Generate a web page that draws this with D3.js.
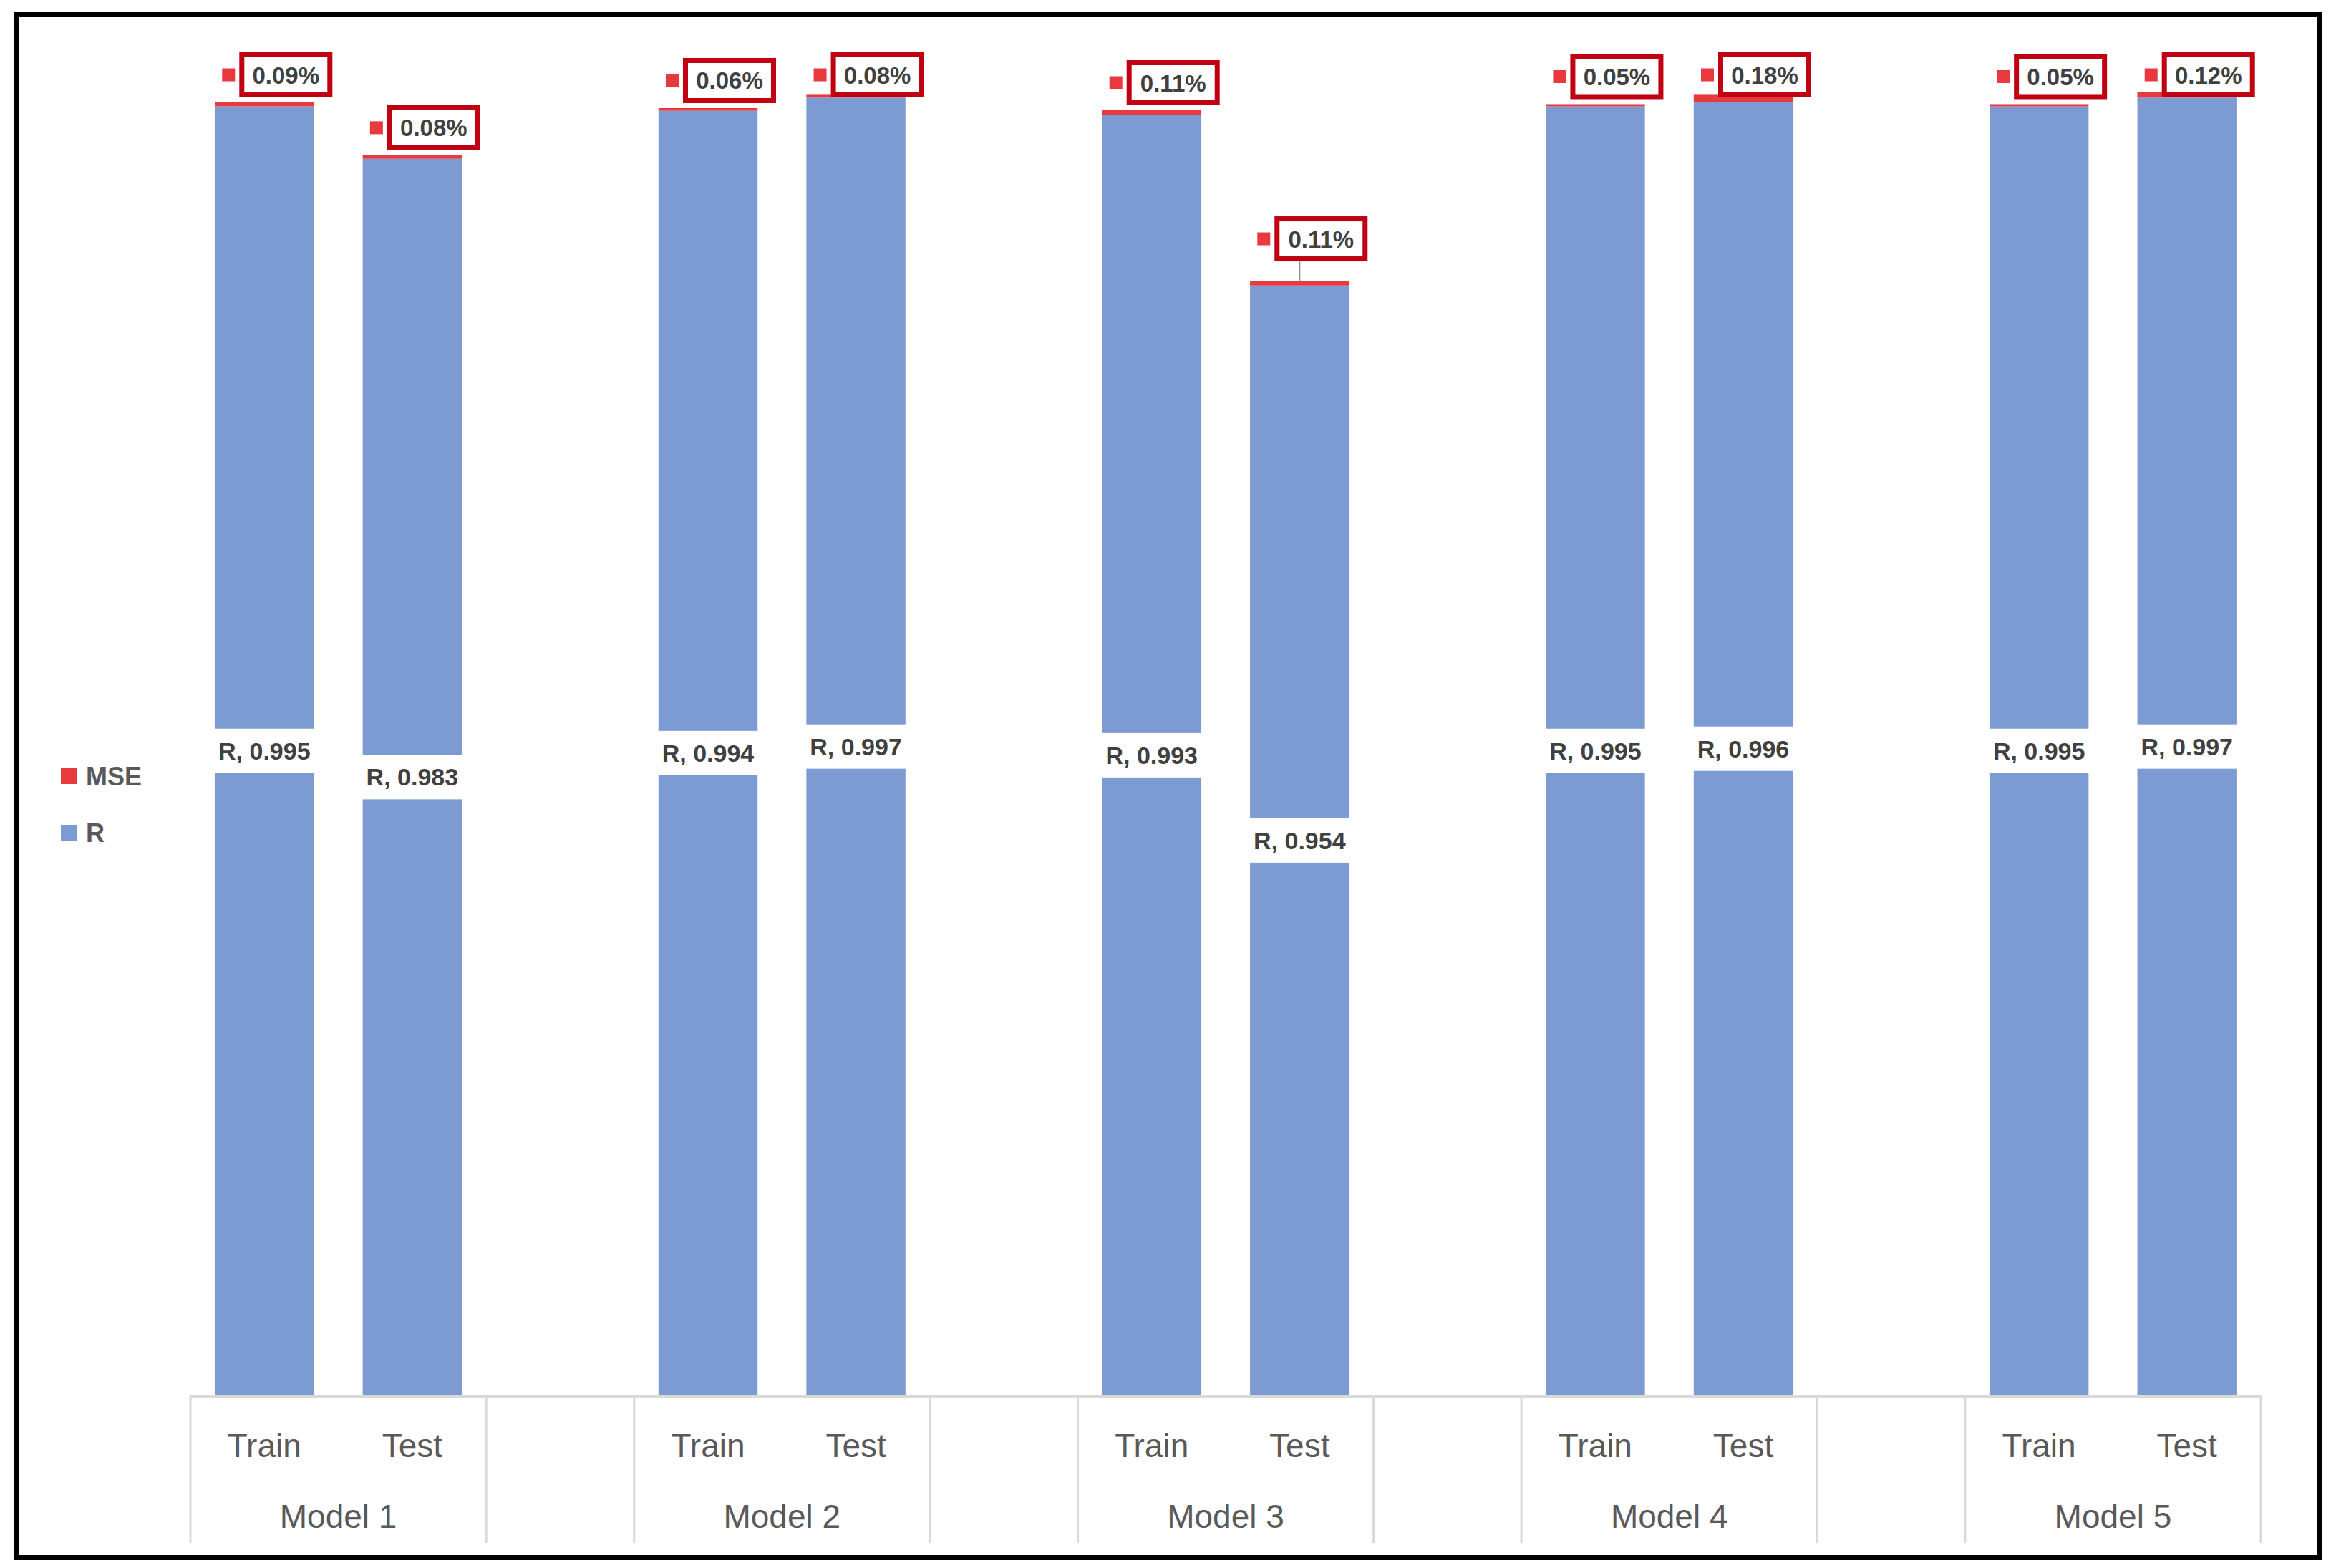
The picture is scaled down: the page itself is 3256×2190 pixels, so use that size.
<!DOCTYPE html>
<html>
<head>
    <style>
        body {
            margin: 0;
            background: #fff;
        }
        text {
            font-family: "Liberation Sans", Arial, sans-serif;
        }
        .rlabel {
            font-size: 34px;
            font-weight: bold;
            fill: #404040;
            text-anchor: middle;
        }
        .mselabel {
            font-size: 33px;
            font-weight: bold;
            fill: #404040;
            text-anchor: middle;
        }
        .cat {
            font-size: 46px;
            fill: #595959;
            text-anchor: middle;
        }
        .legend text {
            font-size: 36px;
            font-weight: bold;
            fill: #595959;
        }
    </style>
    <script src="https://d3js.org/d3.v7.min.js"></script>
</head>
<body>
    <svg width="3256" height="2190"></svg>

    <script>
        // data
        var models = ["Model 1", "Model 2", "Model 3", "Model 4", "Model 5"];
        var phases = ["Train", "Test"];
        var rTrain = [0.995, 0.994, 0.993, 0.995, 0.995];
        var rTest = [0.983, 0.997, 0.954, 0.996, 0.997];
        var mseTrain = [0.09, 0.06, 0.11, 0.05, 0.05];   // percent
        var mseTest = [0.08, 0.08, 0.11, 0.18, 0.12];    // percent

        var blue = "#7b9bd2",
            red = "#e8393f",
            boxRed = "#c00012";

        var svg = d3.select("svg");

        // outer frame
        svg.append("rect")
           .attr("x", 22.5).attr("y", 20.5)
           .attr("width", 3218).attr("height", 2155)
           .attr("fill", "none")
           .attr("stroke", "#000")
           .attr("stroke-width", 7);

        // rows, one per bar, plus an empty slot between models
        var rows = [];
        var slots = [];
        models.forEach(function(m, i) {
            phases.forEach(function(p, j) {
                var key = m + "|" + p;
                slots.push(key);
                rows.push({
                    key: key, model: m, phase: p,
                    R: j == 0 ? rTrain[i] : rTest[i],
                    MSE: (j == 0 ? mseTrain[i] : mseTest[i]) / 100,
                    msePct: j == 0 ? mseTrain[i] : mseTest[i]
                });
            });
            if (i < models.length - 1) slots.push("gap" + i);
        });

        var x = d3.scaleBand()
                  .domain(slots)
                  .range([266, 3158])
                  .paddingInner(0.33)
                  .paddingOuter(0.165);

        var y = d3.scaleLinear()
                  .domain([0.7, 1.0])
                  .range([1949, 118])
                  .clamp(true);

        var stack = d3.stack().keys(["R", "MSE"]);
        var series = stack(rows);

        var g = svg.append("g");

        g.selectAll(".series")
         .data(series)
         .enter().append("g")
         .attr("class", "series")
         .attr("fill", function(d) { return d.key == "R" ? blue : red; })
         .selectAll("rect")
         .data(function(d) { return d; })
         .enter().append("rect")
         .attr("x", function(d) { return x(d.data.key); })
         .attr("width", x.bandwidth())
         .attr("y", function(d) { return y(d[1]); })
         .attr("height", function(d) { return y(d[0]) - y(d[1]); });

        // category axis: base line and group separators
        var step = x.step();
        var axis = svg.append("g").attr("class", "axis");
        axis.append("line")
            .attr("x1", x.range()[0]).attr("x2", x.range()[1])
            .attr("y1", 1951).attr("y2", 1951)
            .attr("stroke", "#d9d9d9").attr("stroke-width", 4);

        models.forEach(function(m) {
            var left = x(m + "|Train") - x.bandwidth() * 0.33 / 0.67 / 2;
            var right = left + 2 * step;
            [left, right].forEach(function(xx) {
                axis.append("line")
                    .attr("x1", xx).attr("x2", xx)
                    .attr("y1", 1949).attr("y2", 2155)
                    .attr("stroke", "#d9d9d9").attr("stroke-width", 3);
            });
            axis.append("text")
                .attr("class", "cat")
                .attr("x", (left + right) / 2)
                .attr("y", 2134)
                .text(m);
        });

        axis.selectAll(".phase")
            .data(rows)
            .enter().append("text")
            .attr("class", "cat")
            .attr("x", function(d) { return x(d.key) + x.bandwidth() / 2; })
            .attr("y", 2035)
            .text(function(d) { return d.phase; });

        // R labels, middle of the blue part, on a white patch
        var rLab = g.selectAll(".rlab")
                    .data(series[0])
                    .enter().append("g")
                    .attr("transform", function(d) {
                        var cx = x(d.data.key) + x.bandwidth() / 2;
                        var cy = (y(d[0]) + y(d[1])) / 2;
                        return "translate(" + cx + "," + cy + ")";
                    });
        rLab.append("rect")
            .attr("x", -76).attr("y", -31)
            .attr("width", 152).attr("height", 62)
            .attr("fill", "#fff");
        rLab.append("text")
            .attr("class", "rlabel")
            .attr("y", 12)
            .text(function(d) { return "R, " + d.data.R.toFixed(3); });

        // MSE labels: key + boxed value, above the bar top, kept inside the plot
        var lift = { "Model 3|Test": 20 };
        var boxW = 130, boxH = 63;
        var mLab = g.selectAll(".mlab")
                    .data(series[1])
                    .enter().append("g");

        mLab.each(function(d) {
            var sel = d3.select(this);
            var cx = x(d.data.key) + x.bandwidth() / 2;
            var top = y(d[1]);
            var bottom = top - 7 - (lift[d.data.key] || 0);
            var by = Math.max(73, bottom - boxH);
            var bx = cx + 30 - boxW / 2;

            if (lift[d.data.key]) {
                sel.append("line")
                   .attr("x1", cx).attr("x2", cx)
                   .attr("y1", by + boxH).attr("y2", top)
                   .attr("stroke", "#8c8c8c").attr("stroke-width", 2);
            }
            sel.append("rect")
               .attr("x", bx - 24).attr("y", by + boxH / 2 - 9)
               .attr("width", 18).attr("height", 18)
               .attr("fill", red);
            sel.append("rect")
               .attr("x", bx + 3.5).attr("y", by + 3.5)
               .attr("width", boxW - 7).attr("height", boxH - 7)
               .attr("fill", "#fff")
               .attr("stroke", boxRed)
               .attr("stroke-width", 7);
            sel.append("text")
               .attr("class", "mselabel")
               .attr("x", bx + boxW / 2)
               .attr("y", by + boxH / 2 + 12)
               .text(d.data.msePct.toFixed(2) + "%");
        });

        // legend
        var legend = svg.append("g").attr("class", "legend");
        var items = [{ name: "MSE", color: red, y: 1084 }, { name: "R", color: blue, y: 1163 }];
        items.forEach(function(it) {
            legend.append("rect")
                  .attr("x", 85).attr("y", it.y - 11)
                  .attr("width", 22).attr("height", 22)
                  .attr("fill", it.color);
            legend.append("text")
                  .attr("x", 120).attr("y", it.y + 13)
                  .text(it.name);
        });
    </script>
</body>
</html>
